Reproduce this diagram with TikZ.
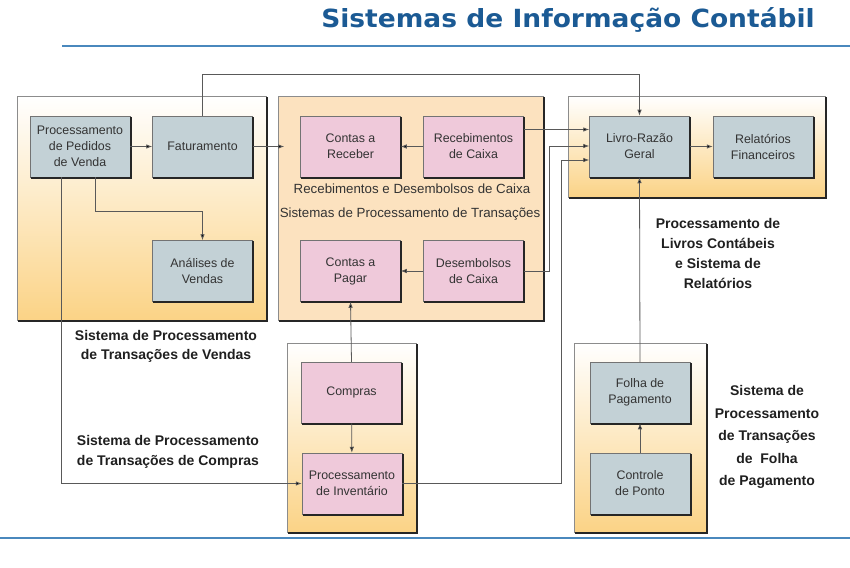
\documentclass[tikz,border=0pt]{standalone}
\usepackage{fontspec}
\usepackage{graphicx}
\setmainfont{Liberation Sans}
\newfontfamily\titlefont{DejaVu Sans}
\usetikzlibrary{arrows.meta}
\definecolor{boxblue}{HTML}{C3D1D6}
\definecolor{boxpink}{HTML}{EFC9DA}
\definecolor{peach}{HTML}{FCE2BF}
\definecolor{gradbot}{HTML}{FBD386}
\definecolor{titleblue}{HTML}{1B5A94}
\definecolor{lineblue}{HTML}{4A88BD}
\definecolor{txt}{HTML}{333333}
\tikzset{
  inner/.style={rectangle, draw=black!55, line width=0.5pt, minimum width=100pt, minimum height=61pt,
    inner sep=0pt, align=center, text=txt, font=\fontsize{12.4}{16}\selectfont},
  bluebox/.style={inner, fill=boxblue},
  pinkbox/.style={inner, fill=boxpink},
  outerbox/.style={rectangle, draw=black!45, line width=0.6pt, inner sep=0pt},
  gradbox/.style={outerbox, top color=white, bottom color=gradbot},
  shadowthin/.style={draw=black!85, line width=2pt},
  shadowthick/.style={draw=black!85, line width=2.6pt},
  lbl/.style={align=center, text=black!88, font=\bfseries\fontsize{14}{19.5}\selectfont, inner sep=0pt},
  sublbl/.style={text=black!80, font=\fontsize{13.3}{16}\selectfont, inner sep=0pt},
  arr/.style={draw=black!65, line width=0.8pt, -{Latex[length=6pt,width=4.5pt,fill=black]}},
}
\begin{document}
\begin{tikzpicture}[x=1pt,y=-1pt]
\useasboundingbox (0,0) rectangle (850,567);
% title and rules
\node[anchor=base east, text=titleblue, inner sep=0pt,
  font=\titlefont\bfseries\fontsize{25}{28}\selectfont] (title) at (815,28)
  {\scalebox{1.06}[1]{Sistemas de Informação Contábil}};
\coordinate (r1a) at (62,46); \coordinate (r1b) at (850,46);
\coordinate (r2a) at (0,538); \coordinate (r2b) at (850,538);
\draw[lineblue, line width=2.5pt] (r1a) -- (r1b);
\draw[lineblue, line width=2.5pt] (r2a) -- (r2b);

% outer system boxes
\node[gradbox, minimum width=249pt, minimum height=224pt] (sales) at (141.5,208) {};
\node[outerbox, fill=peach, minimum width=265pt, minimum height=224pt] (caixa) at (410.5,208) {};
\node[gradbox, minimum width=257pt, minimum height=101pt] (ledger) at (696.5,146.5) {};
\node[gradbox, minimum width=129pt, minimum height=189pt] (purch) at (351.5,437.5) {};
\node[gradbox, minimum width=132pt, minimum height=189pt] (payroll) at (640,437.5) {};
\foreach \n in {sales,caixa,ledger,purch,payroll}{
  \draw[shadowthick] ([xshift=0.8pt,yshift=-1.5pt]\n.north east) -- ([xshift=0.8pt,yshift=-0.8pt]\n.south east) -- ([xshift=1.5pt,yshift=-0.8pt]\n.south west);
}

% inner boxes
\node[bluebox] (ped) at (80,146.5) {Processamento\\de Pedidos\\de Venda};
\node[bluebox] (fat) at (202.5,146.5) {Faturamento};
\node[bluebox] (ana) at (202.5,271) {Análises de\\Vendas};
\node[pinkbox] (recv) at (350.5,146.5) {Contas a\\Receber};
\node[pinkbox] (receb) at (473.5,146.5) {Recebimentos\\de Caixa};
\node[pinkbox] (pagar) at (350.5,271) {Contas a\\Pagar};
\node[pinkbox] (desemb) at (473.5,271) {Desembolsos\\de Caixa};
\node[bluebox] (livro) at (639.5,146.5) {Livro-Razão\\Geral};
\node[bluebox] (rel) at (763,146.5) {Relatórios\\Financeiros};
\node[pinkbox] (compras) at (351.5,392.5) {Compras};
\node[pinkbox] (inv) at (352,483.5) {Processamento\\de Inventário};
\node[bluebox] (folha) at (640,392.5) {Folha de\\Pagamento};
\node[bluebox] (ponto) at (640,483.5) {Controle\\de Ponto};
\foreach \n in {ped,fat,ana,recv,receb,pagar,desemb,livro,rel,compras,inv,folha,ponto}{
  \draw[shadowthin] ([xshift=0.7pt,yshift=-1.2pt]\n.north east) -- ([xshift=0.7pt,yshift=-0.7pt]\n.south east) -- ([xshift=1.2pt,yshift=-0.7pt]\n.south west);
}

% labels
\node[sublbl] (l5) at (412,189) {Recebimentos e Desembolsos de Caixa};
\node[sublbl] (l6) at (410,214) {Sistemas de Processamento de Transações};
\node[lbl] (l1) at (166,346.5) {Sistema de Processamento\\de Transações de Vendas};
\node[lbl] (l2) at (168,452) {Sistema de Processamento\\de Transações de Compras};
\node[lbl, font=\bfseries\fontsize{14}{20.3}\selectfont] (l3) at (718,253.5) {Processamento de\\Livros Contábeis\\e Sistema de\\Relatórios};
\node[lbl, font=\bfseries\fontsize{14}{22.5}\selectfont] (l4) at (767,437) {Sistema de\\Processamento\\de Transações\\de \ Folha\\de Pagamento};

% connectors
\coordinate (topA) at (202.5,74);
\coordinate (e1) at (95,211);
\coordinate (e3) at (561,160);
\coordinate (e4) at (549,146);
\draw[arr] (ped) -- (fat);
\draw[arr] ([xshift=15pt]ped.south) -- (e1) -| (ana.north);
\draw[arr] ([xshift=-19pt]ped.south) |- (inv.west);
\draw[arr] (fat.north) -- (topA) -| (livro.north);
\draw[arr] (fat.east) -- ([xshift=-16pt]recv.west);
\draw[arr] (receb) -- (recv);
\draw[arr] (desemb) -- (pagar);
\draw[arr] ([yshift=17pt]receb.east) -- ([yshift=17pt]livro.west);
\draw[arr] (desemb.east) -| (e4) -- (livro.west |- e4);
\draw[arr] (inv.east) -| (e3) -- (livro.west |- e3);
\draw[arr] (livro) -- (rel);
\draw[arr] (compras) -- (inv);
\draw[arr] (compras.north) -- (pagar.south);
\draw[arr] (ponto) -- (folha);
\draw[arr] (folha.north) -- (livro.south);
\end{tikzpicture}
\end{document}
